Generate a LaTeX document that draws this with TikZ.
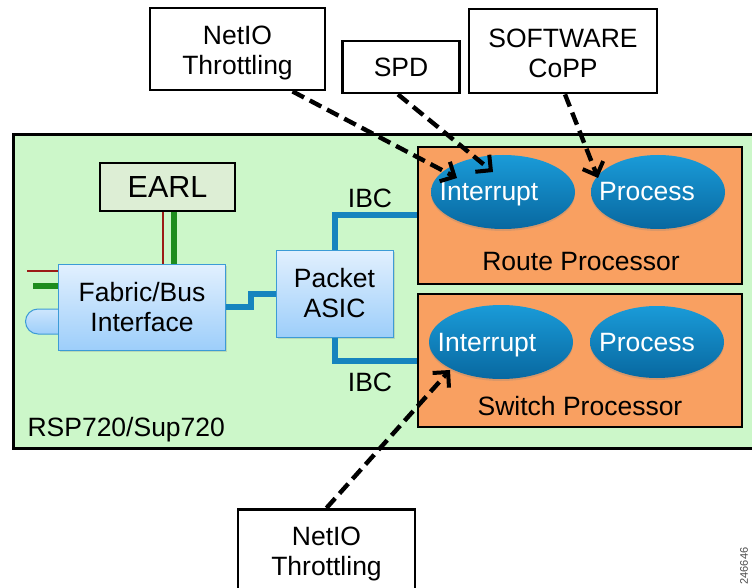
\documentclass[tikz,border=0pt]{standalone}
\usepackage{fontspec}
\setmainfont{Liberation Sans}
\usetikzlibrary{arrows.meta,shapes.geometric,shadows}
\definecolor{boardgreen}{HTML}{CCF7C9}
\definecolor{earlgreen}{HTML}{DDEED5}
\definecolor{procorange}{HTML}{F9A061}
\definecolor{ellbluetop}{HTML}{1A9BD8}
\definecolor{ellbluebot}{HTML}{0868A0}
\definecolor{linkblue}{HTML}{1684BE}
\definecolor{chiptop}{HTML}{E2F0FE}
\definecolor{chipbot}{HTML}{9DCEFA}
\definecolor{chipedge}{HTML}{3C9BD6}
\definecolor{darkred}{HTML}{9B1B16}
\definecolor{busgreen}{HTML}{1E8C1E}
\tikzset{
  txt/.style={font=\fontsize{26.5}{30}\selectfont},
  wbox/.style={draw=black,line width=2.8pt,fill=white,align=center,txt,inner sep=0pt},
  proc/.style={draw=black,line width=2.8pt,fill=procorange,inner sep=0pt},
  ell/.style={ellipse,top color=ellbluetop,bottom color=ellbluebot,draw=none,text=white,txt,inner sep=0pt,
    drop shadow={shadow xshift=0pt,shadow yshift=-2pt,opacity=0.25}},
  elltxt/.style={txt,text=white},
  chip/.style={draw=chipedge,line width=1pt,top color=chiptop,bottom color=chipbot,align=center,txt,inner sep=0pt,
    drop shadow={shadow xshift=1.5pt,shadow yshift=-1.5pt,opacity=0.25}},
  link/.style={draw=linkblue,line width=6pt},
  ctl/.style={draw=black,line width=4.4pt,dash pattern=on 13pt off 6.5pt,-{Straight Barb[length=11pt,width=22pt,line width=4pt]}},
}
\begin{document}
\begin{tikzpicture}[x=1pt,y=-1pt]
\clip (0,0) rectangle (752,588);
\fill[white] (0,0) rectangle (752,588);
% board
\node[draw=black,line width=2.8pt,fill=boardgreen,minimum width=760pt,minimum height=314pt,inner sep=0pt,anchor=north west] (board) at (12,133) {};
\node[txt,anchor=west] (boardlbl) at (24,430) {RSP720/Sup720};
% processors
\node[proc,minimum width=324pt,minimum height=137pt] (rp) at (580,215.5) {};
\node[proc,minimum width=324pt,minimum height=133pt] (sp) at (580,360.5) {};
\node[txt] (rplbl) at (581,262) {Route Processor};
\node[txt] (splbl) at (580,406) {Switch Processor};
\node[ell,minimum width=144pt,minimum height=74pt] (rpint) at (503,192) {};
\node[ell,minimum width=134pt,minimum height=74pt] (rpproc) at (658,192) {};
\node[ell,minimum width=144pt,minimum height=74pt] (spint) at (501,342) {};
\node[ell,minimum width=134pt,minimum height=72pt] (spproc) at (657,342) {};
\node[elltxt] (rpinttxt) at (489,194) {Interrupt};
\node[elltxt] (rpproctxt) at (647,192) {Process};
\node[elltxt] (spinttxt) at (487,345) {Interrupt};
\node[elltxt] (spproctxt) at (647,343) {Process};
% EARL / fabric / ASIC
\node[draw=black,line width=2.8pt,fill=earlgreen,minimum width=135pt,minimum height=48pt,inner sep=0pt,
  font=\fontsize{30.5}{33}\selectfont] (earl) at (167.5,187) {EARL};
% left stubs
\coordinate (redend) at (27,271);
\coordinate (grnend) at (33,286);
\draw[darkred,line width=1.5pt] (redend) -- (60,271);
\draw[busgreen,line width=6pt] (grnend) -- (60,286);
\draw[chipedge,line width=1pt,top color=chiptop!70!chipbot,bottom color=chipbot]
  (60,309) -- (38,309) arc[start angle=90,end angle=270,radius=12.5pt] -- (60,334) -- cycle;
\node[chip,minimum width=167pt,minimum height=86pt] (fabric) at (142,307) {Fabric/Bus\\Interface};
\node[chip,minimum width=117pt,minimum height=87pt] (asic) at (334.5,293.5) {Packet\\ASIC};
% EARL -> fabric buses
\draw[darkred,line width=1.5pt] (earl.south -| 163,0) -- (fabric.north -| 163,0);
\draw[busgreen,line width=6pt] (earl.south -| 174,0) -- (fabric.north -| 174,0);
% blue links
\draw[link] (fabric.east) -- ++(25,0) |- (asic.west);
\draw[link] (asic.north) |- (rp.west);
\draw[link] (asic.south) |- (sp.west);
\node[txt] (ibc1) at (370,198) {IBC};
\node[txt] (ibc2) at (370,382) {IBC};
% external boxes
\node[wbox,minimum width=175pt,minimum height=82pt] (netio1) at (237.5,49) {};
\node[txt,align=center] (netio1lbl) at (237.5,53) {NetIO\\Throttling};
\node[wbox,minimum width=117pt,minimum height=52pt] (spd) at (401,67) {SPD};
\node[wbox,minimum width=188pt,minimum height=84pt] (copp) at (563,51) {};
\node[txt,align=center] (coppllbl) at (563,53) {SOFTWARE\\CoPP};
\node[wbox,minimum width=177pt,minimum height=100pt,anchor=north] (netio2) at (326.5,508) {};
\node[txt,align=center,anchor=north] (netio2lbl) at (326.5,523) {NetIO\\Throttling};
% control arrows
\draw[ctl] ([xshift=55pt]netio1.south) -- ([shift={(-46,-14)}]rpint.center);
\draw[ctl] ([xshift=-3pt]spd.south) -- ([shift={(-10,-20)}]rpint.center);
\draw[ctl] ([xshift=2pt]copp.south) -- ([shift={(-60,-14)}]rpproc.center);
\draw[ctl] ([xshift=0pt]netio2.north) -- ([shift={(-51,28)}]spint.center);
% figure id
\node[rotate=90,font=\fontsize{11}{12}\selectfont,text=black!70] (figid) at (744,566) {246646};
\end{tikzpicture}
\end{document}
